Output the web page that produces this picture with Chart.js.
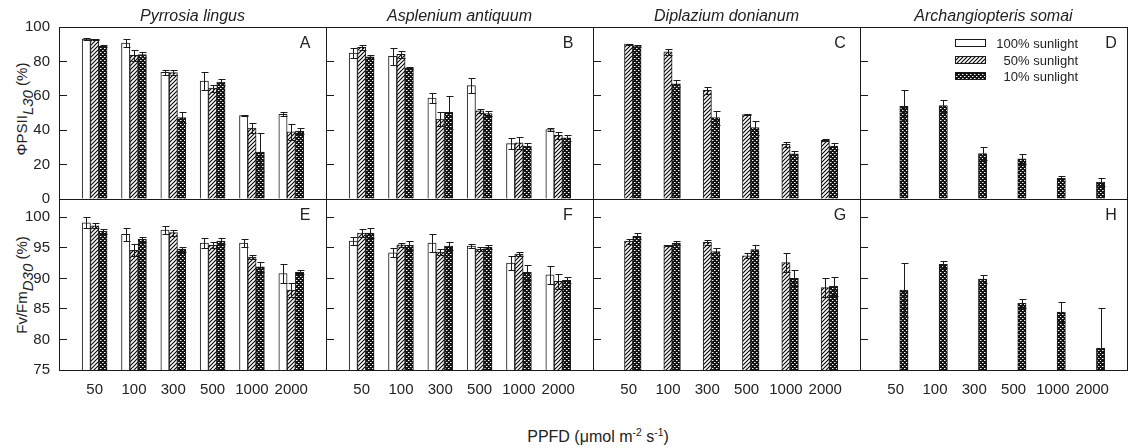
<!DOCTYPE html>
<html lang="en">
<head>
<meta charset="UTF-8">
<title>PSII yield and Fv/Fm of four ferns</title>
<style>
    body { margin: 0; background: #fff; font-family: "Liberation Sans", Arial, sans-serif; color: #222; }
    #wrap { position: relative; width: 1128px; height: 448px; overflow: hidden; }
    #wrap canvas { position: absolute; left: 0; top: 0; }
    .species { position: absolute; top: 7px; width: 267px; text-align: center; font-style: italic; font-size: 16px; line-height: 18px; }
    .letter { position: absolute; width: 20px; text-align: center; font-size: 16px; line-height: 18px; }
    .ytitle { position: absolute; width: 200px; height: 20px; line-height: 20px; text-align: center; font-size: 15px; white-space: nowrap; transform: rotate(-90deg); }
    .ytitle sub { font-size: 100%; font-style: italic; vertical-align: -6px; line-height: 0; }
    .xtitle { position: absolute; left: 448px; top: 428px; width: 300px; text-align: center; font-size: 16px; line-height: 18px; }
    .xtitle sup { font-size: 65%; vertical-align: 6px; line-height: 0; }
</style>
</head>
<body>
<div id="wrap">
    <div class="ytitle" style="left:-78px; top:99px">&Phi;PSII<sub>L30</sub> (%)</div>
    <div class="ytitle" style="left:-78px; top:275px">Fv/Fm<sub>D30</sub> (%)</div>
    <div class="xtitle">PPFD (&mu;mol m<sup>-2</sup> s<sup>-1</sup>)</div>
</div>

<script src="https://cdn.jsdelivr.net/npm/chart.js"></script>
<script>
// categories and tick labels
const ppfdLabels = ['50', '100', '300', '500', '1000', '2000'];
const psiiTicks = [0, 20, 40, 60, 80, 100];
const fvfmTicks = [75, 80, 85, 90, 95, 100];
const speciesNames = ['Pyrrosia lingus', 'Asplenium antiquum', 'Diplazium donianum', 'Archangiopteris somai'];
const panelLetters = ['A', 'B', 'C', 'D', 'E', 'F', 'G', 'H'];
const seriesNames = ['100% sunlight', '50% sunlight', '10% sunlight'];

// PhiPSII L30 (%), rows = 100%, 50%, 10% sunlight
const psiiPyrrosia     = [[93, 90.7, 73.7, 68.6, 48.5, 49.2], [92.8, 83.5, 73.5, 64.5, 41.3, 39], [88.8, 84, 47.3, 68, 27.3, 39.5]];
const psiiPyrrosiaErr  = [[0.5, 2.3, 1.5, 5, 0.5, 1.2], [0.5, 3.3, 1.5, 2, 3, 4.5], [0.5, 1.5, 3, 1.5, 11, 1.5]];
const psiiAsplenium    = [[84.9, 83, 58.7, 65.9, 32.2, 40.3], [88.2, 84.1, 46.5, 51.2, 32.6, 37], [82.6, 76, 50.4, 49.6, 30.8, 35.5]];
const psiiAspleniumErr = [[3, 5, 3, 4.5, 3, 1], [1.5, 2, 4, 1, 3.5, 2], [1, 0.5, 9.5, 1.5, 2, 1.5]];
const psiiDiplazium    = [[null, null, null, null, null, null], [90, 85.5, 63.2, 49.1, 31.8, 34.1], [89, 66.9, 47.3, 41.5, 26.2, 30.8]];
const psiiDiplaziumErr = [[null, null, null, null, null, null], [0.3, 2, 2, 0.2, 1.5, 0.5], [0.5, 2, 4, 4, 1.5, 1.5]];
const psiiArchang      = [[null, null, null, null, null, null], [null, null, null, null, null, null], [53.9, 54.3, 26.4, 23.3, 12, 9.9]];
const psiiArchangErr   = [[null, null, null, null, null, null], [null, null, null, null, null, null], [9.7, 3.5, 4, 3, 1.5, 2.3]];

// Fv/Fm D30 (%), rows = 100%, 50%, 10% sunlight
const fvfmPyrrosia     = [[99.1, 97.2, 97.9, 95.8, 95.8, 90.8], [98.6, 94.6, 97.5, 95.4, 93.5, 88.1], [97.7, 96.4, 94.8, 96.1, 91.9, 91]];
const fvfmPyrrosiaErr  = [[0.9, 1, 0.6, 0.8, 0.7, 1.5], [0.4, 1, 0.5, 0.5, 0.3, 1.2], [0.4, 0.4, 0.4, 0.5, 0.8, 0.3]];
const fvfmAsplenium    = [[96.1, 94.2, 95.8, 95.3, 92.5, 90.6], [97.4, 95.5, 94.3, 94.8, 94, 89.5], [97.4, 95.4, 95.3, 95.1, 91, 89.7]];
const fvfmAspleniumErr = [[0.7, 0.7, 1.5, 0.4, 1.2, 1.5], [0.7, 0.3, 0.5, 0.3, 0.4, 1.2], [0.8, 0.8, 0.6, 0.3, 1.2, 0.5]];
const fvfmDiplazium    = [[null, null, null, null, null, null], [96.1, 95.4, 95.9, 93.7, 92.6, 88.5], [96.9, 95.8, 94.4, 94.7, 90, 88.7]];
const fvfmDiplaziumErr = [[null, null, null, null, null, null], [0.4, 0.1, 0.4, 0.4, 1.6, 1.6], [0.5, 0.3, 0.5, 0.8, 1.3, 1.6]];
const fvfmArchang      = [[null, null, null, null, null, null], [null, null, null, null, null, null], [88.1, 92.3, 89.9, 85.9, 84.5, 78.6]];
const fvfmArchangErr   = [[null, null, null, null, null, null], [null, null, null, null, null, null], [4.5, 0.6, 0.6, 0.8, 1.6, 6.6]];

// layout
const PANEL_X = [59, 326, 593, 860];
const PANEL_W = 267;
const ROW_Y = [27, 199];
const ROW_H = [172, 171];
const AXIS_W = 50;   // room kept for y tick labels
const AXIS_H = 36;   // room kept for x tick labels
const LETTER_OFF = [21, 25, 20, 16];
const INK = '#1a1a1a';

function makePattern(kind) {
    const c = document.createElement('canvas');
    c.width = 4; c.height = 4;
    const g = c.getContext('2d');
    if (kind === 'hatch') {
        g.fillStyle = '#fff';
        g.fillRect(0, 0, 4, 4);
        g.strokeStyle = '#000';
        g.lineWidth = 1.1;
        g.beginPath();
        g.moveTo(-1, 5); g.lineTo(5, -1);
        g.moveTo(-1, 1); g.lineTo(1, -1);
        g.moveTo(3, 5); g.lineTo(5, 3);
        g.stroke();
    } else {
        g.fillStyle = '#111';
        g.fillRect(0, 0, 4, 4);
        g.fillStyle = '#fff';
        g.fillRect(0, 0, 1, 1);
        g.fillRect(2, 2, 1, 1);
        g.fillStyle = '#888';
        g.fillRect(1, 0, 1, 1);
        g.fillRect(3, 2, 1, 1);
    }
    return g.createPattern(c, 'repeat');
}
const fills = ['#ffffff', makePattern('hatch'), makePattern('dots')];

// box around every panel
const frame = {
    id: 'frame',
    afterDraw(chart) {
        const { ctx, chartArea: a } = chart;
        ctx.save();
        ctx.strokeStyle = INK;
        ctx.lineWidth = 1;
        ctx.strokeRect(Math.round(a.left) + 0.5, Math.round(a.top) + 0.5,
            Math.round(a.right - a.left), Math.round(a.bottom - a.top));
        ctx.restore();
    }
};

// +/- error bars with caps on both ends
const errorBars = {
    id: 'errorBars',
    afterDatasetsDraw(chart) {
        const { ctx, chartArea: a, scales: { y } } = chart;
        ctx.save();
        ctx.beginPath();
        ctx.rect(a.left, a.top, a.right - a.left, a.bottom - a.top);
        ctx.clip();
        ctx.strokeStyle = INK;
        ctx.lineWidth = 1;
        chart.data.datasets.forEach((ds, di) => {
            const meta = chart.getDatasetMeta(di);
            meta.data.forEach((bar, i) => {
                const v = ds.data[i].y, e = ds.errors[i];
                if (v == null || e == null) return;
                const x = Math.round(bar.x) + 0.5;
                const hi = Math.round(y.getPixelForValue(v + e)) + 0.5;
                const lo = Math.round(y.getPixelForValue(v - e)) + 0.5;
                const cap = 3;
                ctx.beginPath();
                ctx.moveTo(x, lo); ctx.lineTo(x, hi);
                ctx.moveTo(x - cap, hi); ctx.lineTo(x + cap + 1, hi);
                ctx.moveTo(x - cap, lo); ctx.lineTo(x + cap + 1, lo);
                ctx.stroke();
            });
        });
        ctx.restore();
    }
};

// legend inside panel D
const sunLegend = {
    id: 'sunLegend',
    afterDraw(chart) {
        const { ctx, chartArea: a } = chart;
        ctx.save();
        ctx.font = '13px "Liberation Sans", Arial, sans-serif';
        ctx.textAlign = 'right';
        ctx.textBaseline = 'middle';
        chart.data.datasets.forEach((ds, i) => {
            const cy = Math.round(a.top + 16 + i * 16.7);
            ctx.fillStyle = ds.backgroundColor;
            ctx.fillRect(a.left + 95, cy - 3, 31, 7);
            ctx.strokeStyle = INK;
            ctx.lineWidth = 1;
            ctx.strokeRect(a.left + 95.5, cy - 3.5, 30, 7);
            ctx.fillStyle = '#222';
            ctx.fillText(ds.label, a.left + 218, cy + 1);
        });
        ctx.restore();
    }
};

const wrap = document.getElementById('wrap');

function buildPanel(row, col, values, errors) {
    const canvas = document.createElement('canvas');
    canvas.width = 1128;
    canvas.height = 448;
    wrap.appendChild(canvas);

    const x0 = PANEL_X[col], y0 = ROW_Y[row];
    const tickVals = row === 0 ? psiiTicks : fvfmTicks;
    const plugins = [frame, errorBars];
    if (row === 0 && col === 3) plugins.push(sunLegend);

    new Chart(canvas, {
        type: 'bar',
        data: {
            datasets: seriesNames.map((name, s) => ({
                label: name,
                data: values[s].map((v, i) => ({ x: i, y: v })),
                errors: errors[s],
                backgroundColor: fills[s],
                borderColor: INK,
                borderWidth: 1,
                barThickness: 8.3
            }))
        },
        options: {
            responsive: false,
            animation: false,
            events: [],
            layout: {
                padding: {
                    left: x0 - AXIS_W,
                    top: y0,
                    right: 1128 - x0 - PANEL_W,
                    bottom: 448 - y0 - ROW_H[row] - AXIS_H
                }
            },
            plugins: { legend: { display: false }, tooltip: { enabled: false } },
            scales: {
                x: {
                    type: 'linear',
                    offset: false,
                    min: -0.906,
                    max: 5.883,
                    afterBuildTicks: s => { s.ticks = ppfdLabels.map((_, i) => ({ value: i })); },
                    afterFit: s => { s.height = AXIS_H; },
                    border: { display: false },
                    grid: { display: false, drawTicks: false },
                    ticks: {
                        display: row === 1,
                        autoSkip: false,
                        maxRotation: 0,
                        padding: 11,
                        color: '#222',
                        font: { size: 15, family: '"Liberation Sans", Arial, sans-serif' },
                        callback: v => ppfdLabels[v]
                    }
                },
                y: {
                    min: row === 0 ? 0 : 75,
                    max: row === 0 ? 100 : 103,
                    afterBuildTicks: s => { s.ticks = tickVals.map(v => ({ value: v })); },
                    afterFit: s => { s.width = AXIS_W; },
                    border: { display: false },
                    grid: { drawOnChartArea: false, drawTicks: true, tickLength: -8, color: INK, lineWidth: 1 },
                    ticks: {
                        display: col === 0,
                        padding: 17,
                        color: '#222',
                        font: { size: 15, family: '"Liberation Sans", Arial, sans-serif' }
                    }
                }
            }
        },
        plugins: plugins
    });
}

const psiiSets = [[psiiPyrrosia, psiiPyrrosiaErr], [psiiAsplenium, psiiAspleniumErr], [psiiDiplazium, psiiDiplaziumErr], [psiiArchang, psiiArchangErr]];
const fvfmSets = [[fvfmPyrrosia, fvfmPyrrosiaErr], [fvfmAsplenium, fvfmAspleniumErr], [fvfmDiplazium, fvfmDiplaziumErr], [fvfmArchang, fvfmArchangErr]];

psiiSets.forEach(([v, e], col) => buildPanel(0, col, v, e));
fvfmSets.forEach(([v, e], col) => buildPanel(1, col, v, e));

// species names above the columns and panel letters
speciesNames.forEach((name, col) => {
    const d = document.createElement('div');
    d.className = 'species';
    d.style.left = PANEL_X[col] + 'px';
    d.textContent = name;
    wrap.appendChild(d);
});
panelLetters.forEach((letter, k) => {
    const row = Math.floor(k / 4), col = k % 4;
    const d = document.createElement('div');
    d.className = 'letter';
    d.style.left = (PANEL_X[col] + PANEL_W - LETTER_OFF[col] - 10) + 'px';
    d.style.top = (ROW_Y[row] + 7) + 'px';
    d.textContent = letter;
    wrap.appendChild(d);
});
</script>
</body>
</html>
